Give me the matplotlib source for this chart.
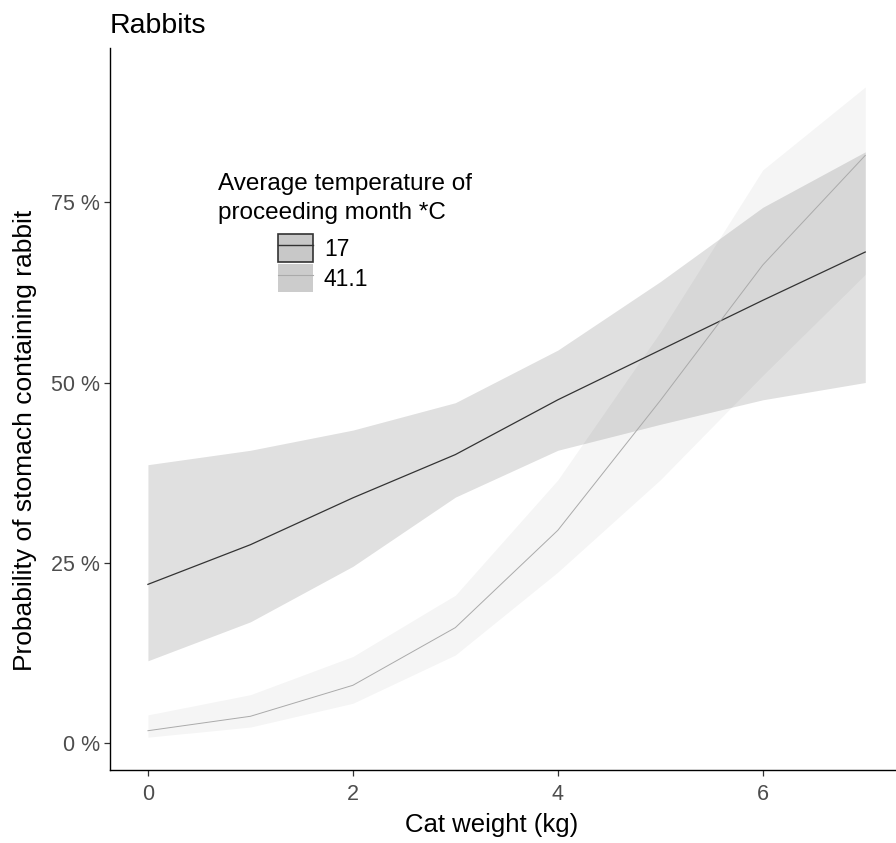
import matplotlib
matplotlib.use("Agg")
import matplotlib.pyplot as plt
from matplotlib.patches import Patch
from matplotlib.lines import Line2D
from matplotlib.ticker import FuncFormatter

plt.rcParams['font.family'] = ['Liberation Sans', 'DejaVu Sans']

weight = [0, 1, 2, 3, 4, 5, 6, 7]
# Temperature 17
p17 = [22.0, 27.5, 34.0, 40.0, 47.6, 54.5, 61.4, 68.1]
lo17 = [11.4, 16.8, 24.5, 34.1, 40.6, 44.2, 47.6, 50.0]
hi17 = [38.6, 40.6, 43.4, 47.2, 54.5, 64.0, 74.3, 82.0]
# Temperature 41.1
p41 = [1.7, 3.7, 8.0, 16.0, 29.5, 47.5, 66.3, 81.5]
lo41 = [0.8, 2.2, 5.5, 12.2, 23.7, 36.5, 51.0, 65.0]
hi41 = [3.9, 6.7, 12.0, 20.5, 36.5, 57.0, 79.5, 91.0]

legend_title = "Average temperature of\nproceeding month *C"
labels = ["17", "41.1"]

fig = plt.figure(figsize=(8.96, 8.43), dpi=100)
ax = fig.add_axes([110/896, 73/843, (896-110)/896, (770-48)/843])

ax.fill_between(weight, lo17, hi17, color='black', alpha=0.12, linewidth=0)
ax.fill_between(weight, lo41, hi41, color='black', alpha=0.04, linewidth=0)
ax.plot(weight, p17, color='#333333', linewidth=0.9)
ax.plot(weight, p41, color='#aaaaaa', linewidth=0.7)

ax.set_xlim(-0.37, 7.3)
ax.set_ylim(-3.75, 96.4)
ax.set_xticks([0, 2, 4, 6])
ax.set_yticks([0, 25, 50, 75])
ax.yaxis.set_major_formatter(FuncFormatter(lambda v, p: f"{int(v)} %"))
for s in ['top', 'right']:
    ax.spines[s].set_visible(False)
for s in ['left', 'bottom']:
    ax.spines[s].set_linewidth(1.0)
    ax.spines[s].set_color('black')
ax.tick_params(axis='both', colors='#333333', labelcolor='#4d4d4d', labelsize=15.5,
               length=4, width=0.9)
ax.tick_params(axis='x', pad=6)
ax.tick_params(axis='y', pad=3)

ax.set_xlabel("Cat weight (kg)", fontsize=18.5, color='black', labelpad=7)
ax.xaxis.set_label_coords((492-110)/786, -(813-770)/722)
ax.set_ylabel("Probability of stomach containing rabbit", fontsize=19, color='black')
ax.yaxis.set_label_coords(-(110-37)/786, (770-440)/722)
ax.set_title("Rabbits", loc='left', fontsize=20.5, color='black', pad=10.5)

fig.text(218/896, 1-173/843, legend_title, fontsize=17.5, va='top', ha='left', linespacing=1.4)

h17 = (Patch(facecolor='#c8c8c8', edgecolor='#333333', linewidth=1.2),
       Line2D([], [], color='#333333', linewidth=1.0))
h41 = (Patch(facecolor='#cccccc', edgecolor='none'),
       Line2D([], [], color='#aaaaaa', linewidth=0.8))
leg = fig.legend([h17, h41], labels, loc='upper left',
                 bbox_to_anchor=(278/896, 1-234/843), frameon=False,
                 fontsize=16.5, handlelength=1.52, handleheight=1.52,
                 labelspacing=0.08, handletextpad=0.48, borderpad=0, borderaxespad=0)

fig.savefig("out.png", dpi=100)
